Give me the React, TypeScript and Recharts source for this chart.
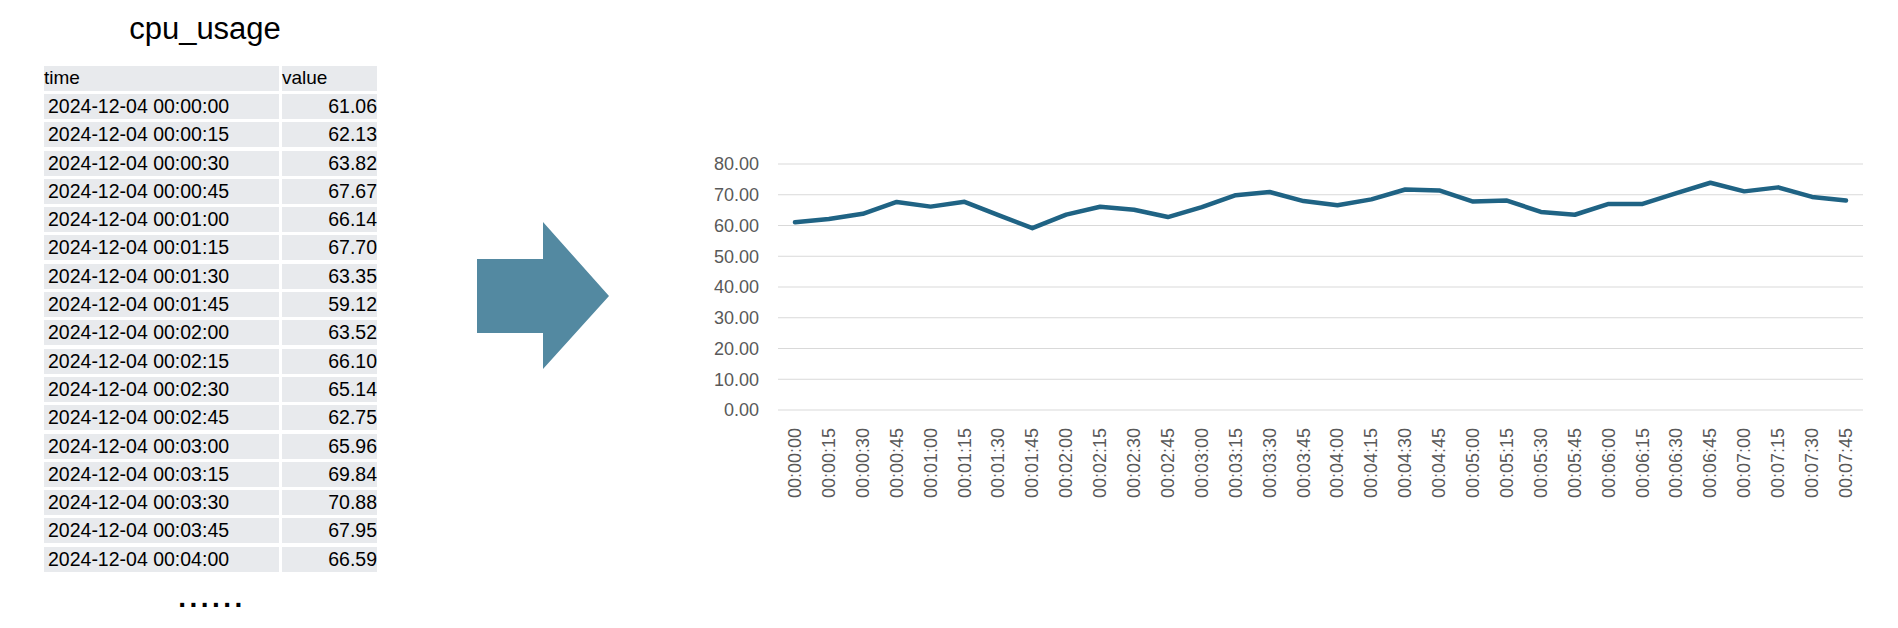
import { CartesianGrid, Line, LineChart, XAxis, YAxis } from "recharts";

const DATE = "2024-12-04";
const times = [
  "00:00:00", "00:00:15", "00:00:30", "00:00:45", "00:01:00", "00:01:15", "00:01:30", "00:01:45",
  "00:02:00", "00:02:15", "00:02:30", "00:02:45", "00:03:00", "00:03:15", "00:03:30", "00:03:45",
  "00:04:00", "00:04:15", "00:04:30", "00:04:45", "00:05:00", "00:05:15", "00:05:30", "00:05:45",
  "00:06:00", "00:06:15", "00:06:30", "00:06:45", "00:07:00", "00:07:15", "00:07:30", "00:07:45",
];
const cpuValues = [
  61.06, 62.13, 63.82, 67.67, 66.14, 67.7, 63.35, 59.12,
  63.52, 66.1, 65.14, 62.75, 65.96, 69.84, 70.88, 67.95,
  66.59, 68.5, 71.7, 71.4, 67.8, 68.1, 64.4, 63.5,
  67.0, 67.0, 70.5, 73.9, 71.1, 72.4, 69.3, 68.1,
];
const yTicks = [0, 10, 20, 30, 40, 50, 60, 70, 80];
const tableRowCount = 17;

const chartData = times.map((t, i) => ({ time: t, value: cpuValues[i] }));
const tableRows = chartData.slice(0, tableRowCount);

const SANS = "'Liberation Sans', Arial, sans-serif";
const CELL_BG = "#e8eaed";
const LINE_COLOR = "#1f6384";
const ARROW_COLOR = "#5389a1";

function TimeTick({ x, y, payload }: any) {
  return (
    <text x={x} y={y} transform={`rotate(-90 ${x} ${y})`} textAnchor="end" dominantBaseline="central" fill="#595959" fontSize={18} fontFamily={SANS}>
      {payload.value}
    </text>
  );
}

function DataTable() {
  const cell = { background: CELL_BG, height: 25, display: "flex", alignItems: "center", fontSize: 19.5, color: "#000" } as const;
  return (
    <div style={{ position: "absolute", left: 44, top: 66, display: "grid", gridTemplateColumns: "235px 95px", columnGap: 3, rowGap: 3.3, fontFamily: SANS }}>
      <div style={{ ...cell, height: 24.7, fontSize: 19 }}>time</div>
      <div style={{ ...cell, height: 24.7, fontSize: 19 }}>value</div>
      {tableRows.map((r) => [
        <div key={r.time + "t"} style={{ ...cell, paddingLeft: 4 }}>{`${DATE} ${r.time}`}</div>,
        <div key={r.time + "v"} style={{ ...cell, justifyContent: "flex-end" }}>{r.value.toFixed(2)}</div>,
      ])}
    </div>
  );
}

export default function App() {
  return (
    <div style={{ position: "absolute", left: 0, top: 0, width: 1898, height: 628, background: "#fff", overflow: "hidden", fontFamily: SANS }}>
      <div style={{ position: "absolute", left: 55, top: 13, width: 300, textAlign: "center", fontSize: 31, lineHeight: "31px", color: "#000" }}>cpu_usage</div>
      <DataTable />
      <div style={{ position: "absolute", left: 112, top: 584, width: 200, textAlign: "center", fontSize: 28, letterSpacing: 3.5, lineHeight: "28px", fontWeight: 700, color: "#000" }}>......</div>

      <svg style={{ position: "absolute", left: 0, top: 0 }} width={700} height={628}>
        <polygon points="477,259 543,259 543,222 609,296 543,369 543,333 477,333" fill={ARROW_COLOR} />
      </svg>

      <div style={{ position: "absolute", left: 700, top: 140 }}>
        <LineChart width={1180} height={380} data={chartData} margin={{ top: 24, right: 17, bottom: 0, left: 0 }}>
          <CartesianGrid vertical={false} stroke="#d9d9d9" strokeWidth={1.2} />
          <XAxis dataKey="time" interval={0} padding={{ left: 17, right: 17 }} axisLine={false} tickLine={false} tickSize={0} tickMargin={18} height={110} tick={<TimeTick />} />
          <YAxis domain={[0, 80]} ticks={yTicks} width={78} axisLine={false} tickLine={false} tickSize={0} tickMargin={19}
            tickFormatter={(v: number) => v.toFixed(2)} tick={{ fill: "#595959", fontSize: 18, fontFamily: SANS }} />
          <Line type="linear" dataKey="value" stroke={LINE_COLOR} strokeWidth={4.5} dot={false} strokeLinejoin="round" strokeLinecap="round" isAnimationActive={false} />
        </LineChart>
      </div>
    </div>
  );
}
